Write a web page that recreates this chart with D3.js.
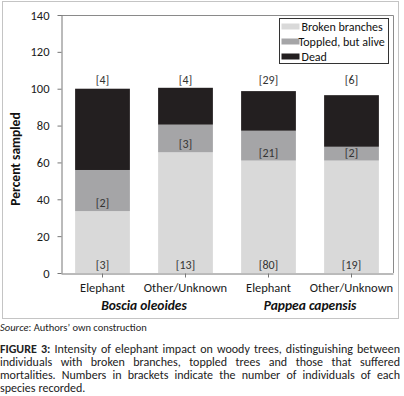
<!DOCTYPE html>
<html>
<head>
<meta charset="utf-8">
<script src="https://cdn.jsdelivr.net/npm/d3@7"></script>
<style>
  html, body { margin: 0; padding: 0; background: #fff; }
  svg { display: block; font-family: Carlito, Calibri, Lato, sans-serif; }
  .axis text { fill: #1a1a1a; }
  .axis path, .axis line { stroke: #777; }
</style>
</head>
<body>
<svg id="chart" width="404" height="396"></svg>
<script>
// values (percent sampled)
const categories = ["Elephant", "Other/Unknown", "Elephant ", "Other/Unknown "];
const species = ["Boscia oleoides", "Pappea capensis"];
const seriesNames = ["Broken branches", "Toppled, but alive", "Dead"];
const brokenValues = [33.6, 65.5, 61, 61];
const toppledValues = [22.3, 15, 16.2, 7.5];
const deadValues = [44.1, 20, 21.5, 28];
const brokenCounts = ["[3]", "[13]", "[80]", "[19]"];
const toppledCounts = ["[2]", "[3]", "[21]", "[2]"];
const deadCounts = ["[4]", "[4]", "[29]", "[6]"];
const yTicks = [0, 20, 40, 60, 80, 100, 120, 140];
const colors = ["#d9d9d9", "#a5a5a7", "#231f20"];

const captionLines = [
  "FIGURE 3: Intensity of elephant impact on woody trees, distinguishing between",
  "individuals with broken branches, toppled trees and those that suffered",
  "mortalities. Numbers in brackets indicate the number of individuals of each",
  "species recorded."
];

const svg = d3.select("#chart");
const plot = { left: 61, right: 393, top: 15, bottom: 273 };

// outer figure frame
svg.append("rect")
  .attr("x", 2.5).attr("y", 1.5).attr("width", 396).attr("height", 317)
  .attr("fill", "none").attr("stroke", "#c4c4c4");

const x = d3.scaleBand().domain(categories).range([plot.left, plot.right]).paddingInner(0.34).paddingOuter(0.17);
const y = d3.scaleLinear().domain([0, 140]).range([plot.bottom, plot.top]);

// plot area border (top and right)
svg.append("path")
  .attr("d", `M${plot.left},${plot.top + 0.5}H${plot.right + 0.5}V${plot.bottom}`)
  .attr("fill", "none").attr("stroke", "#8a8a8a");

const stackRows = categories.map((c, i) => ({
  cat: c,
  "Broken branches": brokenValues[i],
  "Toppled, but alive": toppledValues[i],
  "Dead": deadValues[i]
}));
const stacked = d3.stack().keys(seriesNames)(stackRows);

svg.append("g").selectAll("g")
  .data(stacked)
  .join("g")
  .attr("fill", (d, i) => colors[i])
  .selectAll("rect")
  .data((d) => d)
  .join("rect")
  .attr("x", (d) => x(d.data.cat))
  .attr("width", x.bandwidth())
  .attr("y", (d) => y(d[1]))
  .attr("height", (d) => y(d[0]) - y(d[1]));

// count labels inside the base of the lower two segments
const labelG = svg.append("g").attr("font-size", 12).attr("fill", "#333").attr("text-anchor", "middle");
[brokenCounts, toppledCounts].forEach((counts, s) => {
  labelG.selectAll(null)
    .data(stacked[s])
    .join("text")
    .attr("x", (d) => x(d.data.cat) + x.bandwidth() / 2)
    .attr("y", (d) => y(d[0]) - 4)
    .text((d, i) => counts[i]);
});
// dead counts above the bars
labelG.selectAll(null)
  .data(categories)
  .join("text")
  .attr("x", (d) => x(d) + x.bandwidth() / 2)
  .attr("y", y(100) - 5)
  .text((d, i) => deadCounts[i]);

// axes
svg.append("g").attr("class", "axis")
  .attr("transform", `translate(${plot.left + 0.5},0)`)
  .call(d3.axisLeft(y).tickValues(yTicks).tickSize(4).tickPadding(8).tickSizeOuter(0))
  .call((g) => g.selectAll("text").style("font-size", "12.5px").style("font-family", null));

svg.append("g").attr("class", "axis")
  .attr("transform", `translate(0,${plot.bottom + 0.5})`)
  .call(d3.axisBottom(x).tickSize(4).tickPadding(6).tickSizeOuter(0))
  .call((g) => g.selectAll("text").style("font-size", "12.5px").text((d) => d.trim()));
svg.selectAll(".axis").attr("font-family", null);

// species group labels
svg.append("g").selectAll("text")
  .data(species)
  .join("text")
  .attr("x", (d, i) => (x(categories[i * 2]) + x(categories[i * 2 + 1]) + x.bandwidth()) / 2)
  .attr("y", 310)
  .attr("text-anchor", "middle")
  .attr("font-size", 13.5)
  .attr("font-weight", "bold")
  .attr("font-style", "italic")
  .attr("fill", "#111")
  .text((d) => d);

// y axis title
svg.append("text")
  .attr("transform", `translate(20,${(plot.top + plot.bottom) / 2 + 15}) rotate(-90)`)
  .attr("text-anchor", "middle")
  .attr("font-size", 13.5)
  .attr("font-weight", "bold")
  .attr("fill", "#111")
  .text("Percent sampled");

// legend
const legend = svg.append("g").attr("transform", "translate(279.5,18.5)");
legend.append("rect").attr("width", 109).attr("height", 45).attr("fill", "#fff").attr("stroke", "#333");
seriesNames.forEach((name, i) => {
  const row = legend.append("g").attr("transform", `translate(0,${8 + i * 15})`);
  row.append("rect").attr("x", 2).attr("y", -3).attr("width", 18).attr("height", 6).attr("fill", colors[i]);
  row.append("text").attr("x", i === 1 ? 19 : 22).attr("y", 4.5).attr("font-size", 12).attr("fill", "#111").text(name);
});

// source line
const src = svg.append("text").attr("x", 0).attr("y", 331).attr("font-size", 10.5).attr("fill", "#222");
src.append("tspan").attr("font-style", "italic").text("Source");
src.append("tspan").text(": Authors\u2019 own construction");

// caption, justified word by word
const capSize = 12;
captionLines.forEach((line, li) => {
  const words = line.split(" ");
  const ty = 353 + li * 13;
  const nodes = words.map((w, wi) => svg.append("text")
    .attr("y", ty)
    .attr("font-size", capSize)
    .attr("font-weight", li === 0 && wi < 2 ? "bold" : null)
    .attr("fill", "#222")
    .text(w));
  const widths = nodes.map((n) => n.node().getComputedTextLength());
  const total = d3.sum(widths);
  const last = li === captionLines.length - 1;
  const space = capSize * 0.25;
  const gap = last ? space : (400 - total) / (words.length - 1);
  let cx = 0;
  nodes.forEach((n, wi) => {
    n.attr("x", cx);
    cx += widths[wi] + gap;
  });
});
</script>
</body>
</html>
